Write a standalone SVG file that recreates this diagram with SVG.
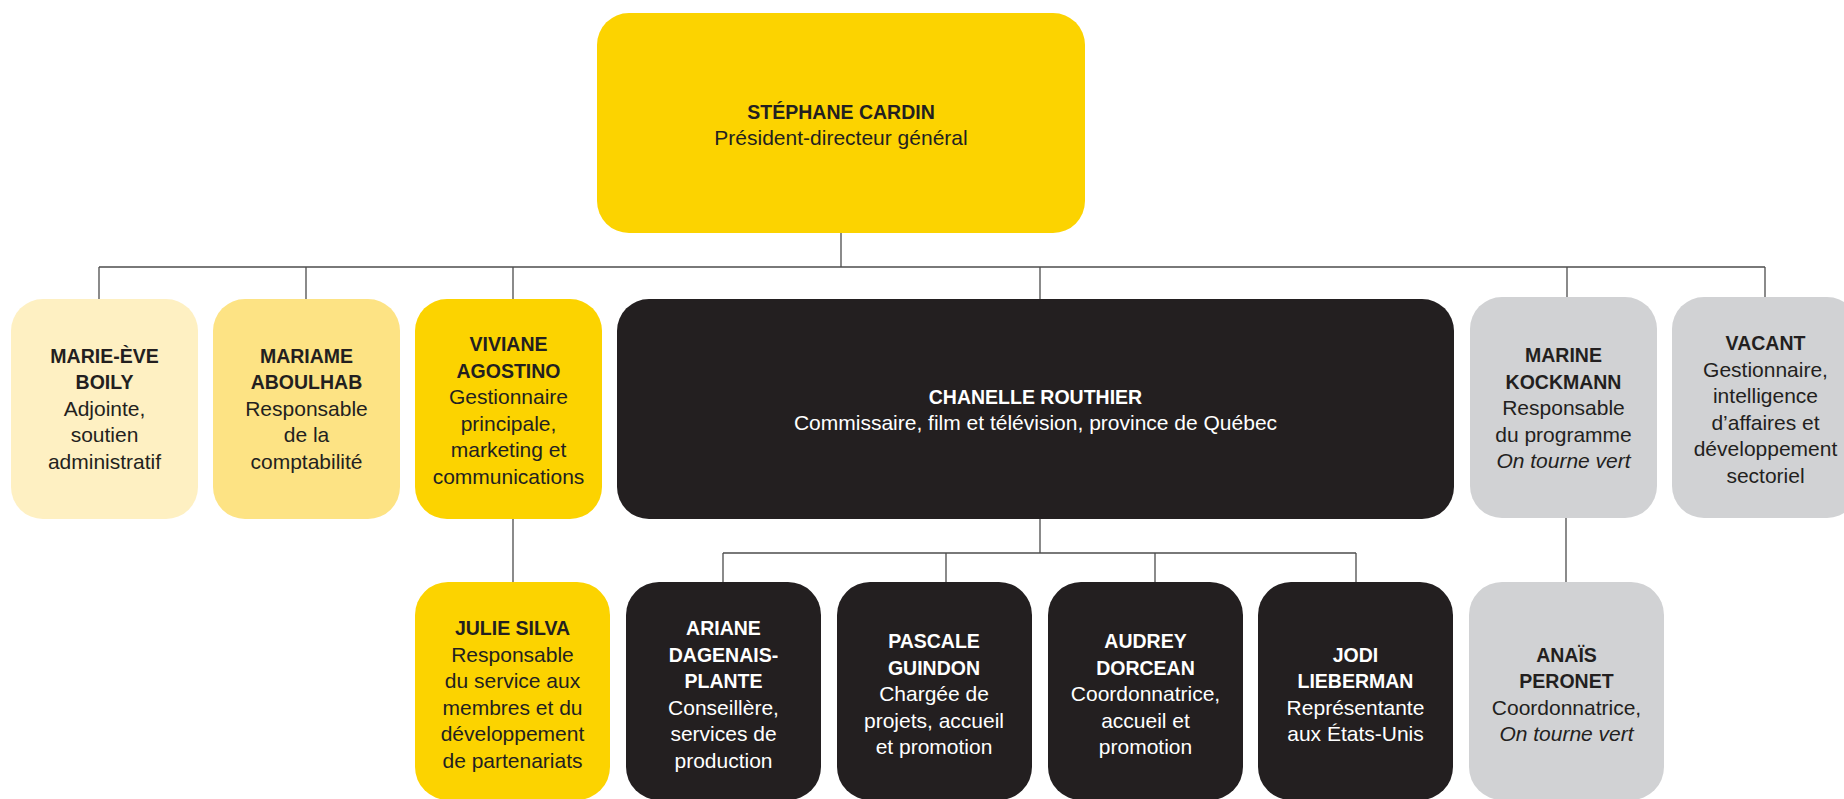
<svg xmlns="http://www.w3.org/2000/svg" width="1844" height="799" viewBox="0 0 1844 799">
<style>
.box{stroke:none}
.y0{fill:#FCD300}
.y1{fill:#FEF0C2}
.y2{fill:#FDE384}
.k{fill:#231F20}
.g{fill:#D1D2D4}
text{font-family:"Liberation Sans",Arial,sans-serif;text-anchor:middle;fill:#231F20}
.n{font-weight:bold;font-size:19.5px}
.t{font-size:21px}
.i{font-style:italic}
.w{fill:#FFFFFF}
.c{fill:none;stroke:#4D4D4D;stroke-width:1.3}
</style>
<rect width="1844" height="799" fill="#FFFFFF"/>
<g id="connectors">
<path class="c" d="M841 233V267M99 267H1765M99 267V299M306 267V299M513 267V299M1040 267V299M1567 267V297M1765 267V297M513 519V582M1040 519V553M723 553H1356M723 553V582M946 553V582M1155 553V582M1356 553V582M1566 517V582"/>
</g>
<g id="stephane-cardin">
<rect class="box y0" x="597" y="13" width="488" height="220" rx="32"/>
<text class="n" x="841" y="119">STÉPHANE CARDIN</text>
<text class="t" x="841" y="145">Président-directeur général</text>
</g>
<g id="marie-eve-boily">
<rect class="box y1" x="11" y="299" width="187" height="220" rx="32"/>
<text class="n" x="104.5" y="362.5">MARIE-ÈVE</text>
<text class="n" x="104.5" y="389">BOILY</text>
<text class="t" x="104.5" y="415.5">Adjointe,</text>
<text class="t" x="104.5" y="442">soutien</text>
<text class="t" x="104.5" y="468.5">administratif</text>
</g>
<g id="mariame-aboulhab">
<rect class="box y2" x="213" y="299" width="187" height="220" rx="32"/>
<text class="n" x="306.5" y="362.5">MARIAME</text>
<text class="n" x="306.5" y="389">ABOULHAB</text>
<text class="t" x="306.5" y="415.5">Responsable</text>
<text class="t" x="306.5" y="442">de la</text>
<text class="t" x="306.5" y="468.5">comptabilité</text>
</g>
<g id="viviane-agostino">
<rect class="box y0" x="415" y="299" width="187" height="220" rx="32"/>
<text class="n" x="508.5" y="351">VIVIANE</text>
<text class="n" x="508.5" y="377.5">AGOSTINO</text>
<text class="t" x="508.5" y="404">Gestionnaire</text>
<text class="t" x="508.5" y="430.5">principale,</text>
<text class="t" x="508.5" y="457">marketing et</text>
<text class="t" x="508.5" y="483.5">communications</text>
</g>
<g id="chanelle-routhier">
<rect class="box k" x="617" y="299" width="837" height="220" rx="32"/>
<text class="n w" x="1035.5" y="404">CHANELLE ROUTHIER</text>
<text class="t w" x="1035.5" y="430">Commissaire, film et télévision, province de Québec</text>
</g>
<g id="marine-kockmann">
<rect class="box g" x="1470" y="297" width="187" height="221" rx="32"/>
<text class="n" x="1563.5" y="362">MARINE</text>
<text class="n" x="1563.5" y="388.5">KOCKMANN</text>
<text class="t" x="1563.5" y="415">Responsable</text>
<text class="t" x="1563.5" y="441.5">du programme</text>
<text class="t i" x="1563.5" y="468">On tourne vert</text>
</g>
<g id="vacant">
<rect class="box g" x="1672" y="297" width="187" height="221" rx="32"/>
<text class="n" x="1765.5" y="350">VACANT</text>
<text class="t" x="1765.5" y="376.5">Gestionnaire,</text>
<text class="t" x="1765.5" y="403">intelligence</text>
<text class="t" x="1765.5" y="429.5">d’affaires et</text>
<text class="t" x="1765.5" y="456">développement</text>
<text class="t" x="1765.5" y="482.5">sectoriel</text>
</g>
<g id="julie-silva">
<rect class="box y0" x="415" y="582" width="195" height="218" rx="33"/>
<text class="n" x="512.5" y="635">JULIE SILVA</text>
<text class="t" x="512.5" y="661.5">Responsable</text>
<text class="t" x="512.5" y="688">du service aux</text>
<text class="t" x="512.5" y="714.5">membres et du</text>
<text class="t" x="512.5" y="741">développement</text>
<text class="t" x="512.5" y="767.5">de partenariats</text>
</g>
<g id="ariane-dagenais-plante">
<rect class="box k" x="626" y="582" width="195" height="218" rx="33"/>
<text class="n w" x="723.5" y="635">ARIANE</text>
<text class="n w" x="723.5" y="661.5">DAGENAIS-</text>
<text class="n w" x="723.5" y="688">PLANTE</text>
<text class="t w" x="723.5" y="714.5">Conseillère,</text>
<text class="t w" x="723.5" y="741">services de</text>
<text class="t w" x="723.5" y="767.5">production</text>
</g>
<g id="pascale-guindon">
<rect class="box k" x="837" y="582" width="195" height="218" rx="33"/>
<text class="n w" x="934" y="648">PASCALE</text>
<text class="n w" x="934" y="674.5">GUINDON</text>
<text class="t w" x="934" y="701">Chargée de</text>
<text class="t w" x="934" y="727.5">projets, accueil</text>
<text class="t w" x="934" y="754">et promotion</text>
</g>
<g id="audrey-dorcean">
<rect class="box k" x="1048" y="582" width="195" height="218" rx="33"/>
<text class="n w" x="1145.5" y="648">AUDREY</text>
<text class="n w" x="1145.5" y="674.5">DORCEAN</text>
<text class="t w" x="1145.5" y="701">Coordonnatrice,</text>
<text class="t w" x="1145.5" y="727.5">accueil et</text>
<text class="t w" x="1145.5" y="754">promotion</text>
</g>
<g id="jodi-lieberman">
<rect class="box k" x="1258" y="582" width="195" height="218" rx="33"/>
<text class="n w" x="1355.5" y="661.5">JODI</text>
<text class="n w" x="1355.5" y="688">LIEBERMAN</text>
<text class="t w" x="1355.5" y="714.5">Représentante</text>
<text class="t w" x="1355.5" y="741">aux États-Unis</text>
</g>
<g id="anais-peronet">
<rect class="box g" x="1469" y="582" width="195" height="218" rx="33"/>
<text class="n" x="1566.5" y="661.5">ANAÏS</text>
<text class="n" x="1566.5" y="688">PERONET</text>
<text class="t" x="1566.5" y="714.5">Coordonnatrice,</text>
<text class="t i" x="1566.5" y="741">On tourne vert</text>
</g>
</svg>
